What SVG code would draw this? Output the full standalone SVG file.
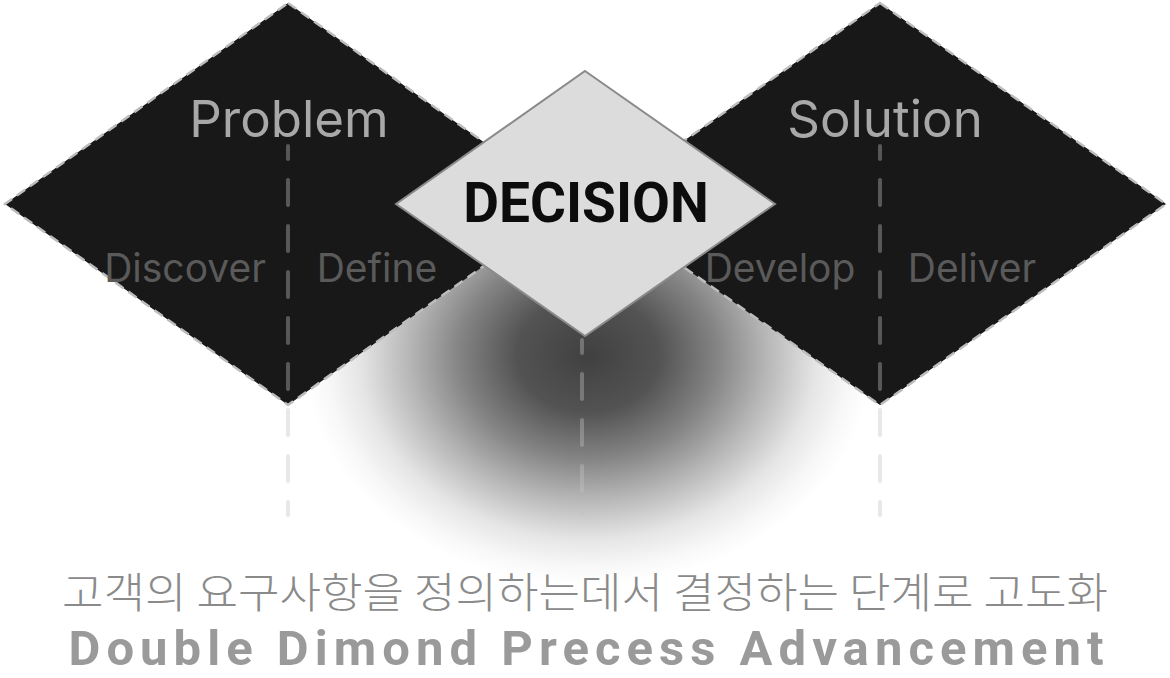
<svg xmlns="http://www.w3.org/2000/svg" width="1170" height="678" viewBox="0 0 1170 678">
  <defs>
    <radialGradient id="glow" cx="0.5" cy="0.5" r="0.5">
      <stop offset="0" stop-color="#404040" stop-opacity="1"/>
      <stop offset="0.25" stop-color="#444444" stop-opacity="0.92"/>
      <stop offset="0.45" stop-color="#444444" stop-opacity="0.66"/>
      <stop offset="0.62" stop-color="#444444" stop-opacity="0.4"/>
      <stop offset="0.8" stop-color="#444444" stop-opacity="0.14"/>
      <stop offset="0.92" stop-color="#444444" stop-opacity="0.04"/>
      <stop offset="1" stop-color="#444444" stop-opacity="0"/>
    </radialGradient>
    <style>
      .big { fill: #181818; stroke: #bdbdbd; stroke-width: 2.5; stroke-dasharray: 10 6; }
      .dec { fill: #dcdcdc; stroke: #8a8a8a; stroke-width: 2; }
      .vl { stroke: #c3c3c3; stroke-opacity: 0.38; stroke-width: 4; stroke-linecap: round; stroke-dasharray: 25 21; fill: none; }
      .title { font-family: Inter, "Liberation Sans", sans-serif; font-size: 51px; fill: #a8a8a8; text-anchor: middle; }
      .phase { font-family: Inter, "Liberation Sans", sans-serif; font-size: 39px; fill: #5a5a5a; text-anchor: middle; }
      .dtext { font-family: Roboto, "Liberation Sans", sans-serif; font-weight: 700; font-size: 55px; fill: #0c0c0c; text-anchor: middle; }
      .ko { font-family: "Noto Sans CJK KR", sans-serif; font-weight: 300; font-size: 42px; fill: #8a8a8a; text-anchor: middle; }
      .en { font-family: Roboto, "Liberation Sans", sans-serif; font-weight: 700; font-size: 49px; fill: #9a9a9a; text-anchor: middle; }
    </style>
  </defs>
  <rect width="1170" height="678" fill="#ffffff"/>
  <ellipse cx="588" cy="355" rx="285" ry="230" fill="url(#glow)"/>

  <g id="problem">
    <polygon class="big" points="288,3 571,204 288,405 5,204"/>
  </g>
  <g id="solution">
    <polygon class="big" points="880,3 1166,204 880,405 594,204"/>
  </g>

  <g id="connectors">
    <line class="vl" x1="288" y1="146" x2="288" y2="515" stroke-dashoffset="12"/>
    <line class="vl" x1="880" y1="146" x2="880" y2="515" stroke-dashoffset="12"/>
    <line class="vl" x1="582" y1="340" x2="582" y2="515" stroke-dasharray="23 20" stroke-dashoffset="12"/>
  </g>

  <g id="decision">
    <polygon class="dec" points="585,71 775,204 585,336 396,204"/>
    <text class="dtext" x="586" y="222">DECISION</text>
  </g>

  <g id="labels">
    <text class="title" x="289" y="137">Problem</text>
    <text class="title" x="885" y="137">Solution</text>
    <text class="phase" x="185" y="282">Discover</text>
    <text class="phase" x="377" y="282">Define</text>
    <text class="phase" x="780" y="282">Develop</text>
    <text class="phase" x="972" y="282">Deliver</text>
  </g>

  <g id="caption">
    <text class="ko" x="585" y="608" textLength="1046" lengthAdjust="spacingAndGlyphs">고객의 요구사항을 정의하는데서 결정하는 단계로 고도화</text>
    <text class="en" x="586" y="665" textLength="1035" lengthAdjust="spacing">Double Dimond Precess Advancement</text>
  </g>
</svg>
